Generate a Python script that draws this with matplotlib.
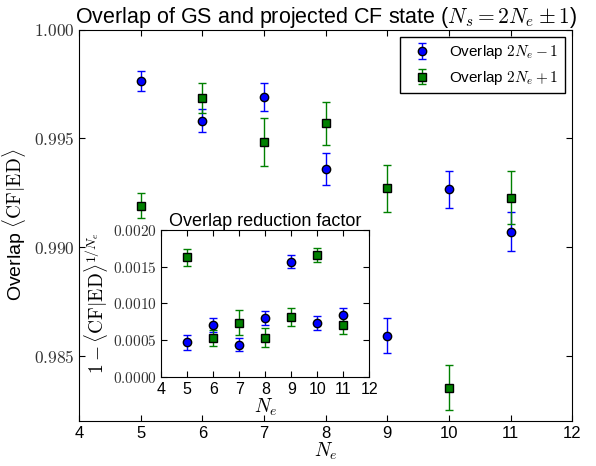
import numpy as np
import matplotlib
matplotlib.use("Agg")
import matplotlib.pyplot as plt
from matplotlib.ticker import FuncFormatter

plt.rcParams['font.family'] = ['Liberation Sans', 'DejaVu Sans']
plt.rcParams['mathtext.fontset'] = 'cm'
plt.rcParams['xtick.direction'] = 'in'
plt.rcParams['ytick.direction'] = 'in'
plt.rcParams['xtick.top'] = True
plt.rcParams['ytick.right'] = True
plt.rcParams['xtick.major.size'] = 4
plt.rcParams['ytick.major.size'] = 4

# main panel: overlaps
ne = [5, 6, 7, 8, 9, 10, 11]
ov_minus = [0.99763, 0.99581, 0.99691, 0.99359, 0.98593, 0.99266, 0.99071]
ov_minus_err = [0.00047, 0.00053, 0.00065, 0.00073, 0.00080, 0.00085, 0.00088]
ov_plus = [0.99190, 0.99685, 0.99483, 0.99570, 0.99270, 0.98353, 0.99226]
ov_plus_err = [0.00058, 0.00067, 0.00110, 0.00099, 0.00107, 0.00104, 0.00122]

# inset: reduction factor
red_minus = [0.000472, 0.000703, 0.000440, 0.000803, 0.001569, 0.000735, 0.000844]
red_minus_err = [0.00010, 0.000095, 0.000093, 0.000095, 0.000093, 0.00009, 0.00009]
red_plus = [0.001628, 0.000526, 0.000739, 0.000535, 0.000812, 0.001660, 0.000707]
red_plus_err = [0.000116, 0.00011, 0.000166, 0.00013, 0.000125, 0.00010, 0.00012]

fig = plt.figure(figsize=(5.96, 4.66), dpi=100)
ax = fig.add_axes([0.133, 0.0966, 0.827, 0.84])

ax.errorbar(ne, ov_minus, yerr=ov_minus_err, fmt='o', color='#0000ff', mec='k',
            ms=6, capsize=3, ecolor='#0000ff', elinewidth=1,
            label=r'Overlap $2N_e-1$')
ax.errorbar(ne, ov_plus, yerr=ov_plus_err, fmt='s', color='#008000', mec='k',
            ms=6, capsize=3, ecolor='#008000', elinewidth=1,
            label=r'Overlap $2N_e+1$')
ax.set_xlim(4, 12)
ax.set_ylim(0.982, 1.000)
ax.set_yticks([0.985, 0.990, 0.995, 1.000])
ax.yaxis.set_major_formatter(FuncFormatter(lambda v, p: r'$%.3f$' % v))
ax.tick_params(axis='x', labelsize=12)
ax.tick_params(axis='y', labelsize=12.5, labelcolor='#333333')
ax.set_xlabel(r'$N_e$', fontsize=14, labelpad=0)
ax.set_ylabel(r'Overlap $\langle\mathrm{CF}|\mathrm{ED}\rangle$', fontsize=14, labelpad=4)
ax.set_title(r'Overlap of GS and projected CF state ($N_s=2N_e\pm1$)', fontsize=15.5, pad=3)
leg = ax.legend(loc='upper right', numpoints=1, fontsize=11, fancybox=False,
                framealpha=1, edgecolor='k')
leg.get_frame().set_linewidth(1)

ins = fig.add_axes([0.2706, 0.191, 0.349, 0.3155])
ins.errorbar(ne, red_minus, yerr=red_minus_err, fmt='o', color='#0000ff', mec='k',
             ms=6, capsize=3, ecolor='#0000ff', elinewidth=1)
ins.errorbar(ne, red_plus, yerr=red_plus_err, fmt='s', color='#008000', mec='k',
             ms=6, capsize=3, ecolor='#008000', elinewidth=1)
ins.set_xlim(4, 12)
ins.set_xticks(range(4, 13))
ins.set_ylim(0, 0.002)
ins.set_yticks([0, 0.0005, 0.0010, 0.0015, 0.0020])
ins.yaxis.set_major_formatter(FuncFormatter(lambda v, p: r'$%.4f$' % v))
ins.tick_params(axis='x', labelsize=11.5)
ins.tick_params(axis='y', labelsize=11, labelcolor='#333333')
ins.set_xlabel(r'$N_e$', fontsize=14, labelpad=0)
ins.set_ylabel(r'$1-\langle\mathrm{CF}|\mathrm{ED}\rangle^{1/N_e}$', fontsize=14, labelpad=2)
ins.set_title('Overlap reduction factor', fontsize=13, pad=3)

plt.savefig("out.png", dpi=100)
